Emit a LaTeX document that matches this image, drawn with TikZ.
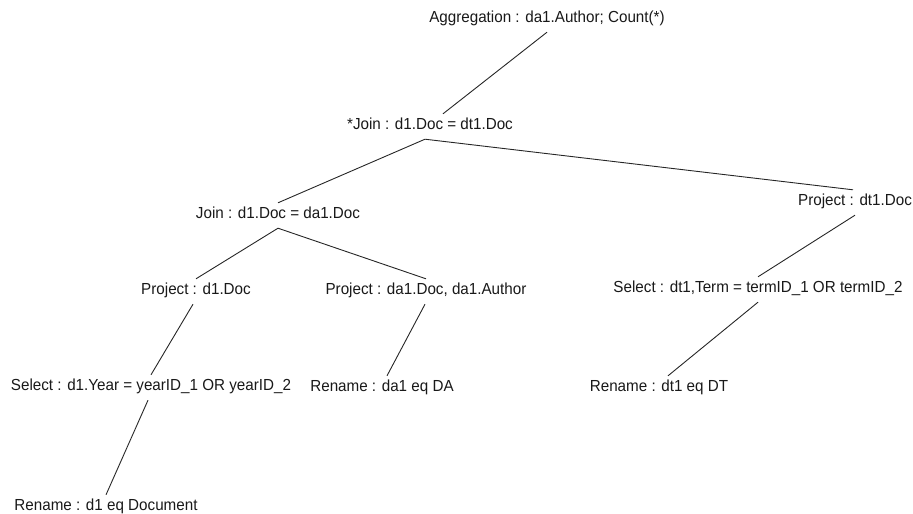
\documentclass[tikz,border=0pt]{standalone}
\usepackage{fontspec}
\usepackage{graphicx}
\setmainfont{Liberation Sans}
\newcommand{\hsq}[1]{\scalebox{0.95}[1]{#1}}
\tikzset{
  lbl/.style={inner xsep=0pt, inner ysep=4pt, text height=11pt, text depth=3pt,
    font=\fontsize{16}{19}\selectfont, text=black!90},
  edge/.style={draw=black!85, line width=0.9pt}
}
\begin{document}
\begin{tikzpicture}[x=1pt, y=-1pt]
\useasboundingbox (0,0) rectangle (913,514);
\node[lbl] (agg) at (547,18) {\hsq{Aggregation : da1.Author; Count(*)}};
\node[lbl] (jstar) at (430,125) {\hsq{*Join : d1.Doc = dt1.Doc}};
\node[lbl] (join) at (278,214) {\hsq{Join : d1.Doc = da1.Doc}};
\node[lbl] (pdt) at (855,201) {\hsq{Project : dt1.Doc}};
\node[lbl] (pd) at (196,290) {\hsq{Project : d1.Doc}};
\node[lbl] (pda) at (426,290) {\hsq{Project : da1.Doc, da1.Author}};
\node[lbl] (sdt) at (758,288) {\hsq{Select : dt1,Term = termID\_1 OR termID\_2}};
\node[lbl] (sd) at (151,386) {\hsq{Select : d1.Year = yearID\_1 OR yearID\_2}};
\node[lbl] (rda) at (382,387) {\hsq{Rename : da1 eq DA}};
\node[lbl] (rdt) at (659,387) {\hsq{Rename : dt1 eq DT}};
\node[lbl] (rd) at (106,506) {\hsq{Rename : d1 eq Document}};

\draw[edge] ([yshift=-3pt]agg.south) -- ([xshift=13pt]jstar.north);
\draw[edge] ([xshift=-5pt,yshift=-3pt]jstar.south) -- (join.north);
\draw[edge] ([xshift=-5pt,yshift=-3pt]jstar.south) -- ([xshift=-2pt]pdt.north);
\draw[edge] ([yshift=-3pt]join.south) -- (pd.north);
\draw[edge] ([yshift=-3pt]join.south) -- (pda.north);
\draw[edge] ([yshift=-3pt]pdt.south) -- (sdt.north);
\draw[edge] ([xshift=-3pt,yshift=-3pt]pd.south) -- (sd.north);
\draw[edge] ([xshift=-3pt,yshift=-3pt]sd.south) -- (rd.north);
\draw[edge] ([xshift=-1pt,yshift=-3pt]pda.south) -- ([xshift=5pt]rda.north);
\draw[edge] ([yshift=-3pt]sdt.south) -- ([xshift=9pt]rdt.north);
\end{tikzpicture}
\end{document}
